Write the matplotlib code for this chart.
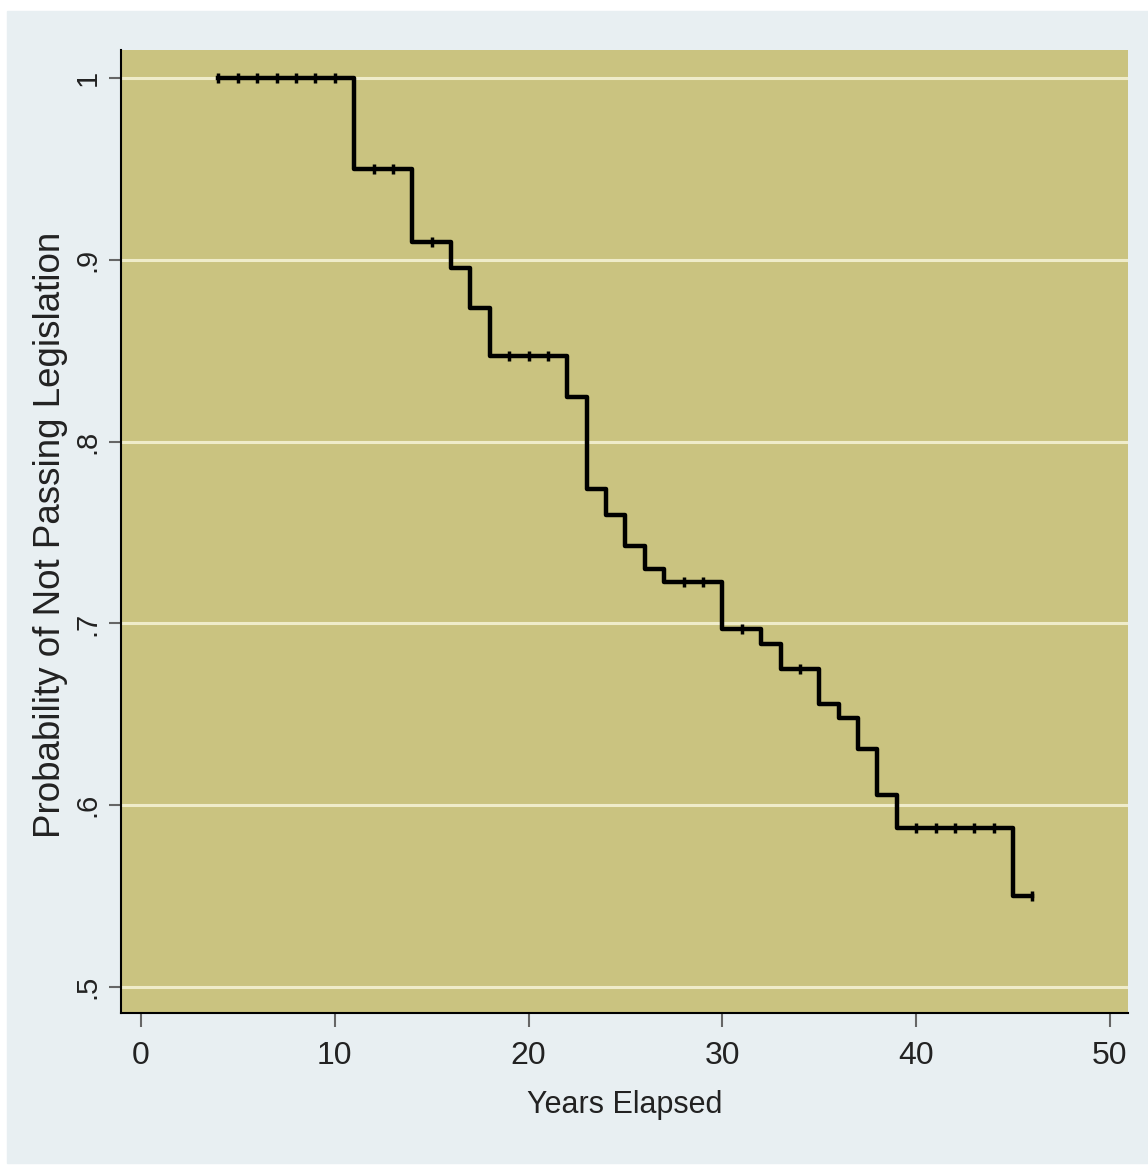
import numpy as np
import matplotlib.pyplot as plt
from matplotlib.patches import Rectangle
from matplotlib import font_manager

# Kaplan-Meier style estimate
years = [4, 11, 14, 16, 17, 18, 22, 23, 24, 25, 26, 27, 30, 32, 33, 35, 36, 37, 38, 39, 45, 46]
survival = [1.0, 0.950, 0.910, 0.8955, 0.8735, 0.847, 0.8243, 0.7737, 0.7597, 0.7423, 0.7300,
            0.7226, 0.6970, 0.6887, 0.6747, 0.6557, 0.6482, 0.6308, 0.6054, 0.5874, 0.5502, 0.5502]
censored_years = [4, 5, 6, 7, 8, 9, 10, 12, 13, 15, 19, 20, 21, 28, 29, 31, 34,
                  40, 41, 42, 43, 44, 46]

x_ticks = [0, 10, 20, 30, 40, 50]
y_ticks = [0.5, 0.6, 0.7, 0.8, 0.9, 1.0]
y_tick_labels = [".5", ".6", ".7", ".8", ".9", "1"]


def surv_at(t):
    i = np.searchsorted(years, t, side="right") - 1
    return survival[i]


names = {f.name for f in font_manager.fontManager.ttflist}
narrow = "Liberation Sans Narrow" if "Liberation Sans Narrow" in names else "Liberation Sans"
regular = "Liberation Sans"

W, H = 1148, 1165
fig = plt.figure(figsize=(W / 100, H / 100), dpi=100, facecolor="white")
fig.patches.append(Rectangle((7 / W, 2 / H), (W - 7) / W, (H - 13) / H,
                             transform=fig.transFigure, color="#e8eff2", zorder=-10))

ax = fig.add_axes([121 / W, 1 - 1013 / H, (1128 - 121) / W, (1013 - 50) / H])
ax.set_zorder(1)
ax.set_facecolor("#cac380")
ax.set_xlim(-1.03, 50.93)
ax.set_ylim(0.4857, 1.0154)

for v in y_ticks:
    ax.axhline(v, color="#efecca", lw=2.2, zorder=1)

ax.step(years, survival, where="post", color="black", lw=3.2, zorder=3)
ax.plot(censored_years, [surv_at(t) for t in censored_years], ls="none",
        marker="|", ms=7, mew=2.5, color="black", zorder=4)

for s in ["top", "right"]:
    ax.spines[s].set_visible(False)
for s in ["left", "bottom"]:
    ax.spines[s].set_color("black")
    ax.spines[s].set_linewidth(1.5)

ax.set_xticks(x_ticks)
ax.set_xticklabels([str(v) for v in x_ticks], fontsize=23, family=narrow, color="#222222")
ax.set_yticks(y_ticks)
ax.set_yticklabels(y_tick_labels, rotation=90, va="center", ha="right",
                   fontsize=21, family=regular, color="#222222")
ax.tick_params(axis="x", length=10, width=1.5, color="#666666", pad=10)
ax.tick_params(axis="y", length=9, width=1.5, color="#666666", pad=5)

ax.set_xlabel("Years Elapsed", fontsize=22, family=narrow, color="#222222", labelpad=14)
ax.set_ylabel("Probability of Not Passing Legislation", fontsize=26.5, family=regular,
              color="#222222")
ax.yaxis.set_label_coords(-0.053, 0.497)

fig.savefig("out.png", dpi=100, facecolor="white")
